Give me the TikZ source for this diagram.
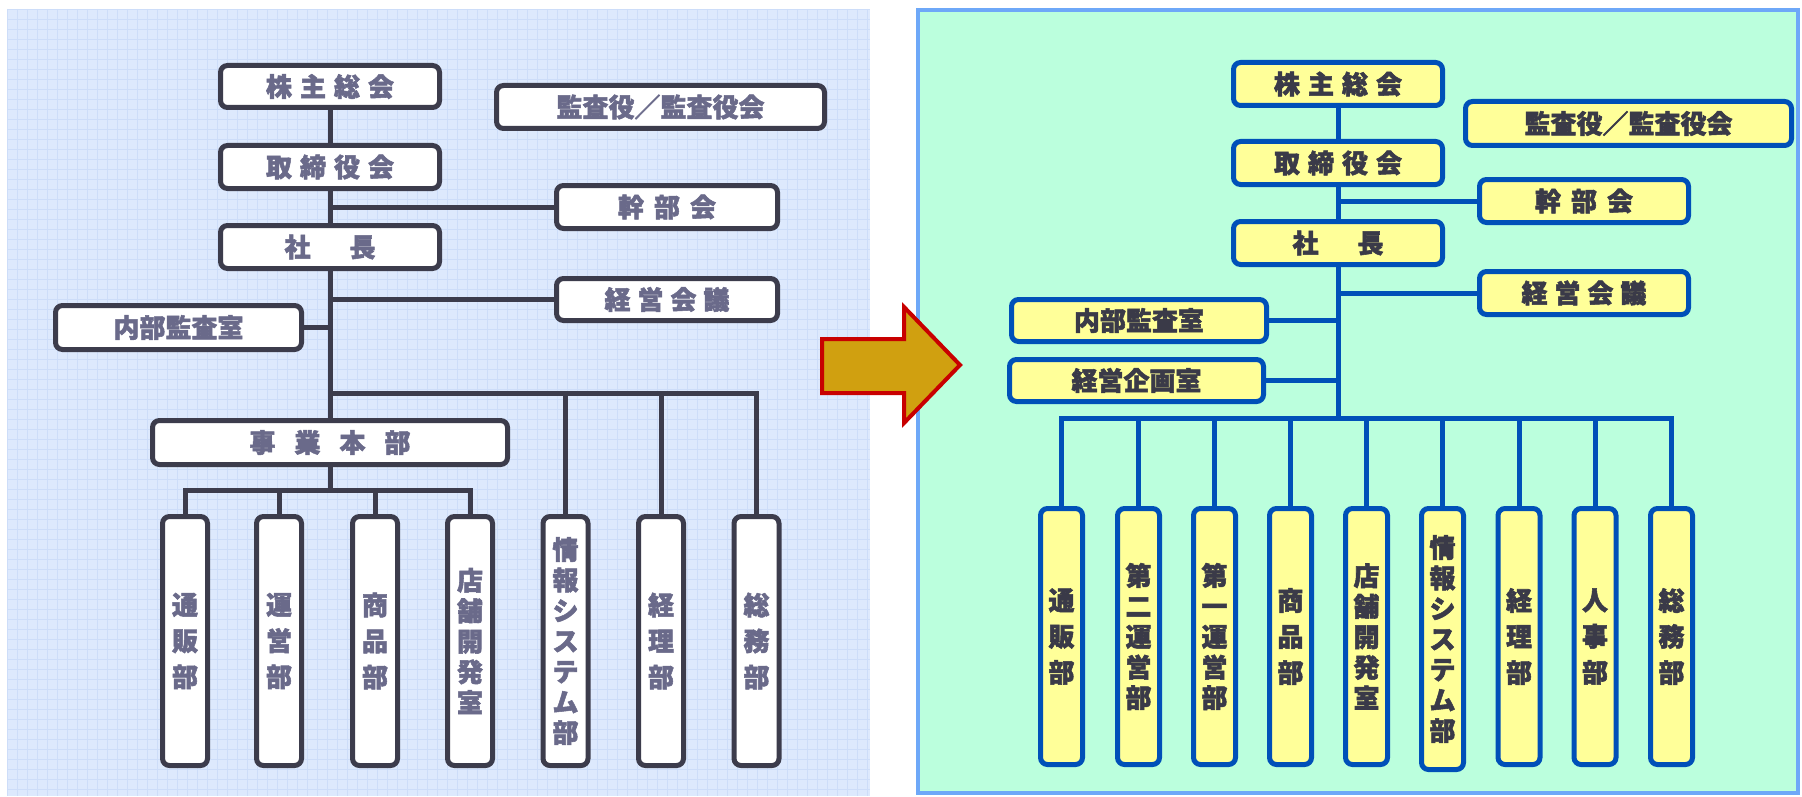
\documentclass[tikz,border=0pt]{standalone}
\usepackage{fontspec}
\newfontfamily\cjk{Noto Sans CJK JP}[BoldFeatures={FakeBold=2}]
\definecolor{lbg}{RGB}{221,233,253}
\definecolor{lgrid}{RGB}{205,221,249}
\definecolor{lline}{RGB}{60,60,76}
\definecolor{ltext}{RGB}{106,106,138}
\definecolor{rbg}{RGB}{187,255,221}
\definecolor{rframe}{RGB}{110,168,248}
\definecolor{rline}{RGB}{0,80,184}
\definecolor{rfill}{RGB}{255,255,153}
\definecolor{rtext}{RGB}{58,58,72}
\definecolor{agold}{RGB}{208,160,16}
\definecolor{ared}{RGB}{200,0,0}
\tikzset{
  hfont/.style={font=\cjk\bfseries\fontsize{26}{32}\selectfont},
  vfontA/.style={font=\cjk\bfseries\fontsize{26}{36}\selectfont},
  vfontB/.style={font=\cjk\bfseries\fontsize{26}{30.5}\selectfont},
  lbox/.style={draw=lline, line width=5pt, fill=white, rounded corners=7pt, inner sep=0pt, text=ltext, hfont, align=center},
  rbox/.style={draw=rline, line width=5pt, fill=rfill, rounded corners=7pt, inner sep=0pt, text=rtext, hfont, align=center},
  lvbox/.style={lbox, minimum width=45pt, minimum height=249pt},
  rvbox/.style={rbox, minimum width=42pt, minimum height=256pt},
  lconn/.style={draw=lline, line width=5pt, line join=miter},
  rconn/.style={draw=rline, line width=5pt, line join=miter},
}
\begin{document}
\begin{tikzpicture}[x=1pt,y=-1pt]
\useasboundingbox (0,0) rectangle (1802,797);
% left panel background
\fill[lbg] (7,9) rectangle (870,796);
\foreach \i in {0,...,86} {\draw[lgrid, line width=0.6pt] ({7+10*\i},9) -- ({7+10*\i},796);}
\foreach \j in {0,...,78} {\draw[lgrid, line width=0.6pt] (7,{9+10*\j}) -- (870,{9+10*\j});}
% right panel
\draw[fill=rbg, draw=rframe, line width=4pt] (918,10) rectangle (1798,793);

% ---------- left chart ----------
\node[lbox, minimum width=219pt, minimum height=42pt] (Lkabu) at (330,86.5) {株\hspace{8pt}主\hspace{8pt}総\hspace{8pt}会};
\node[lbox, minimum width=328pt, minimum height=43pt] (Lkansa) at (660.5,107) {監査役／監査役会};
\node[lbox, minimum width=219pt, minimum height=43pt] (Ltori) at (330,167) {取\hspace{8pt}締\hspace{8pt}役\hspace{8pt}会};
\node[lbox, minimum width=221pt, minimum height=43pt] (Lkanbu) at (667,207) {幹\hspace{10pt}部\hspace{10pt}会};
\node[lbox, minimum width=219pt, minimum height=43pt] (Lshacho) at (330,247) {社\hspace{39pt}長};
\node[lbox, minimum width=221pt, minimum height=42pt] (Lkeiei) at (667,299.5) {経\hspace{7pt}営\hspace{7pt}会\hspace{7pt}議};
\node[lbox, minimum width=246pt, minimum height=44pt] (Lnaibu) at (178.5,327.5) {内部監査室};
\node[lbox, minimum width=355pt, minimum height=44pt] (Ljigyo) at (330,442.5) {事\hspace{19pt}業\hspace{19pt}本\hspace{19pt}部};
\node[lvbox, vfontA] (Lv1) at (185,641) {通\\販\\部};
\node[lvbox, vfontA] (Lv2) at (279,641) {運\\営\\部};
\node[lvbox, vfontA] (Lv3) at (375,641) {商\\品\\部};
\node[lvbox, vfontB] (Lv4) at (470,641) {店\\舗\\開\\発\\室};
\node[lvbox, vfontB] (Lv5) at (565.5,641) {情\\報\\シ\\ス\\テ\\ム\\部};
\node[lvbox, vfontA] (Lv6) at (661,641) {経\\理\\部};
\node[lvbox, vfontA] (Lv7) at (756.5,641) {総\\務\\部};

\coordinate (Lbus) at (330,393);
\coordinate (Lsub) at (330,490);
\draw[lconn] (Lkabu.south) -- (Ltori.north);
\draw[lconn] (Ltori.south) -- (Lshacho.north);
\draw[lconn] (Lshacho.south) -- (Ljigyo.north);
\draw[lconn] (Lkanbu.west) -- (Lkanbu.west -| Ltori.south);
\draw[lconn] (Lkeiei.west) -- (Lkeiei.west -| Lshacho.south);
\draw[lconn] (Lnaibu.east) -- (Lnaibu.east -| Lshacho.south);
\draw[lconn] (Lbus) -| (Lv7.north);
\draw[lconn] (Lv5.north) -- (Lv5.north |- Lbus);
\draw[lconn] (Lv6.north) -- (Lv6.north |- Lbus);
\draw[lconn] (Ljigyo.south) -- (Lsub);
\draw[lconn] (Lv1.north) |- (Lsub) -| (Lv4.north);
\draw[lconn] (Lv2.north) -- (Lv2.north |- Lsub);
\draw[lconn] (Lv3.north) -- (Lv3.north |- Lsub);

% ---------- arrow ----------
\draw[fill=agold, draw=ared, line width=4pt, line join=miter] (822,339) -- (904,339) -- (904,307) -- (960,365) -- (904,423) -- (904,393) -- (822,393) -- cycle;

% ---------- right chart ----------
\node[rbox, minimum width=209pt, minimum height=43pt] (Rkabu) at (1338,84) {株\hspace{8pt}主\hspace{8pt}総\hspace{8pt}会};
\node[rbox, minimum width=326pt, minimum height=44pt] (Rkansa) at (1628.5,123.5) {監査役／監査役会};
\node[rbox, minimum width=209pt, minimum height=43pt] (Rtori) at (1338,163) {取\hspace{8pt}締\hspace{8pt}役\hspace{8pt}会};
\node[rbox, minimum width=209pt, minimum height=43pt] (Rkanbu) at (1584,201) {幹\hspace{10pt}部\hspace{10pt}会};
\node[rbox, minimum width=209pt, minimum height=43pt] (Rshacho) at (1338,243) {社\hspace{39pt}長};
\node[rbox, minimum width=209pt, minimum height=43pt] (Rkeiei) at (1584,293) {経\hspace{7pt}営\hspace{7pt}会\hspace{7pt}議};
\node[rbox, minimum width=255pt, minimum height=42pt] (Rnaibu) at (1139,320.5) {内部監査室};
\node[rbox, minimum width=254pt, minimum height=42pt] (Rkikaku) at (1136.5,380.5) {経営企画室};
\node[rvbox, vfontA] (Rv1) at (1061.5,636.5) {通\\販\\部};
\node[rvbox, vfontB] (Rv2) at (1138.5,636.5) {第\\二\\運\\営\\部};
\node[rvbox, vfontB] (Rv3) at (1214.5,636.5) {第\\一\\運\\営\\部};
\node[rvbox, vfontA] (Rv4) at (1290.5,636.5) {商\\品\\部};
\node[rvbox, vfontB] (Rv5) at (1366.5,636.5) {店\\舗\\開\\発\\室};
\node[rvbox, vfontB, minimum height=261pt] (Rv6) at (1442.5,639) {情\\報\\シ\\ス\\テ\\ム\\部};
\node[rvbox, vfontA] (Rv7) at (1519,636.5) {経\\理\\部};
\node[rvbox, vfontA] (Rv8) at (1595,636.5) {人\\事\\部};
\node[rvbox, vfontA] (Rv9) at (1671.5,636.5) {総\\務\\部};

\coordinate (Rbus) at (1338,418);
\draw[rconn] (Rkabu.south) -- (Rtori.north);
\draw[rconn] (Rtori.south) -- (Rshacho.north);
\draw[rconn] (Rshacho.south) -- (Rbus);
\draw[rconn] (Rkanbu.west) -- (Rkanbu.west -| Rtori.south);
\draw[rconn] (Rkeiei.west) -- (Rkeiei.west -| Rshacho.south);
\draw[rconn] (Rnaibu.east) -- (Rnaibu.east -| Rshacho.south);
\draw[rconn] (Rkikaku.east) -- (Rkikaku.east -| Rshacho.south);
\draw[rconn] (Rv1.north) |- (Rbus) -| (Rv9.north);
\foreach \k in {2,...,8} {\draw[rconn] (Rv\k.north) -- (Rv\k.north |- Rbus);}
\end{tikzpicture}
\end{document}
